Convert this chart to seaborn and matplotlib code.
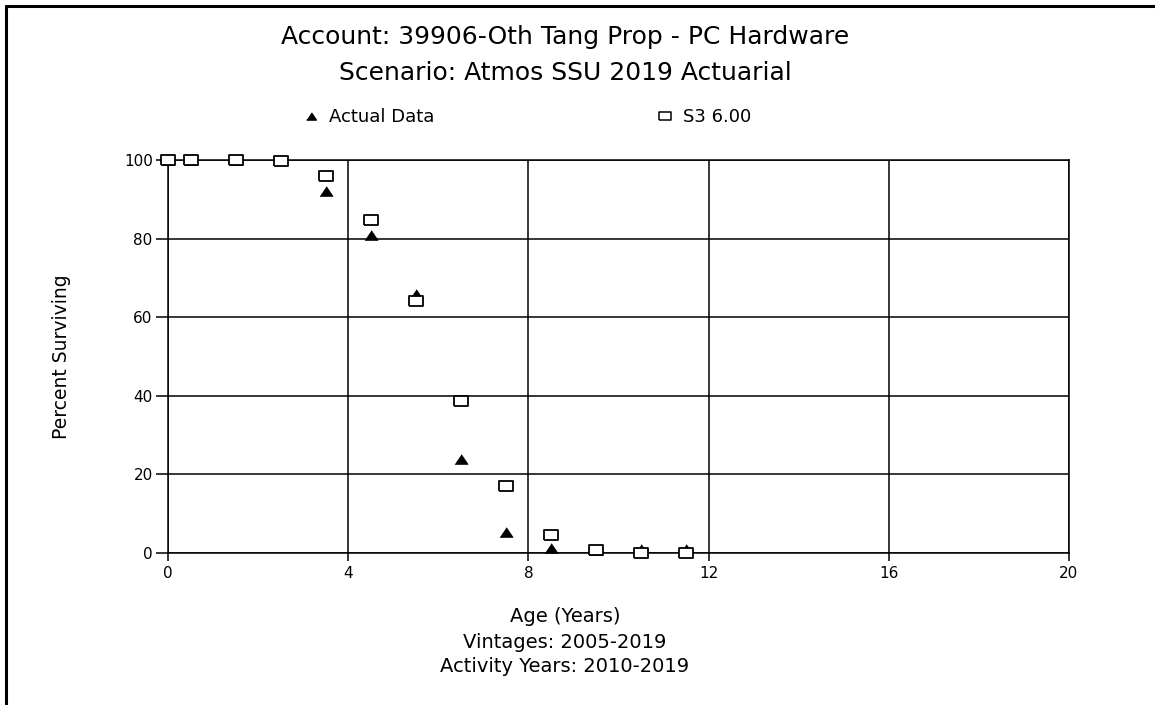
import matplotlib
matplotlib.use("Agg")
import matplotlib.pyplot as plt
import seaborn as sns
import pandas as pd
from matplotlib.lines import Line2D

# data
ages = [0, 0.5, 1.5, 2.5, 3.5, 4.5, 5.5, 6.5, 7.5, 8.5, 9.5, 10.5, 11.5]
actual = [100, 100, 100, 100, 92.1, 81.0, 66.0, 23.9, 5.3, 1.2, 0.8, 0.9, 0.9]
s3 = [100, 100, 100, 99.7, 95.9, 84.7, 64.1, 38.7, 17.0, 4.6, 0.8, 0.1, 0.0]
x_ticks = [0, 4, 8, 12, 16, 20]
y_ticks = [0, 20, 40, 60, 80, 100]

df = pd.DataFrame({"age": ages, "actual": actual, "s3": s3})

sns.set_style("white")
plt.rcParams["font.family"] = ["DejaVu Sans"]
plt.rcParams["text.color"] = "black"
plt.rcParams["axes.labelcolor"] = "black"
plt.rcParams["xtick.color"] = "black"
plt.rcParams["ytick.color"] = "black"

W, H = 1155, 705
fig = plt.figure(figsize=(W / 100, H / 100), dpi=100)
ax = fig.add_axes([168 / W, 1 - 553 / H, (1069 - 168) / W, (553 - 160) / H])

tri = [(-1.35, -1), (1.35, -1), (0, 1)]
rect = [(-1.4, -1), (1.4, -1), (1.4, 1), (-1.4, 1), (-1.4, -1)]

sns.scatterplot(data=df, x="age", y="actual", marker=tri, s=90, color="black",
                edgecolor="black", linewidth=0.5, ax=ax, zorder=3, clip_on=False,
                label="Actual Data", legend=False)
sns.scatterplot(data=df, x="age", y="s3", marker=rect, s=95, color="white",
                edgecolor="black", linewidth=1.3, ax=ax, zorder=4, clip_on=False,
                label="S3 6.00", legend=False)

ax.set_xlim(0, 20)
ax.set_ylim(0, 100)
ax.set_xticks(x_ticks)
ax.set_yticks(y_ticks)
ax.grid(True, color="black", linewidth=1.1)
ax.set_axisbelow(True)
for sp in ax.spines.values():
    sp.set_color("black")
    sp.set_linewidth(1.1)
ax.tick_params(axis="x", direction="out", length=6, width=1.1, labelsize=11, pad=3, bottom=True)
ax.tick_params(axis="y", direction="out", length=9, width=1.1, labelsize=11, pad=2, left=True)
ax.set_xlabel("")
ax.set_ylabel("Percent Surviving", fontsize=13.5, labelpad=38)

# titles and footers
cx = 565 / W
fig.text(cx, 1 - 37 / H, "Account: 39906-Oth Tang Prop - PC Hardware", ha="center", va="center", fontsize=18)
fig.text(cx, 1 - 73 / H, "Scenario: Atmos SSU 2019 Actuarial", ha="center", va="center", fontsize=18)
fig.text(cx, 1 - 617 / H, "Age (Years)", ha="center", va="center", fontsize=14)
fig.text(cx, 1 - 642 / H, "Vintages: 2005-2019", ha="center", va="center", fontsize=14)
fig.text(cx, 1 - 667 / H, "Activity Years: 2010-2019", ha="center", va="center", fontsize=14)

# legend entries
h1 = Line2D([], [], linestyle="none", marker=tri, markersize=7, color="black")
h2 = Line2D([], [], linestyle="none", marker=rect, markersize=8, markerfacecolor="white",
            markeredgecolor="black", markeredgewidth=1.1)
leg1 = fig.legend(handles=[h1], labels=["Actual Data"], loc="center left",
                  bbox_to_anchor=(302 / W, 1 - 117 / H), frameon=False, fontsize=13,
                  handlelength=1, handletextpad=0.5, borderpad=0, borderaxespad=0)
leg2 = fig.legend(handles=[h2], labels=["S3 6.00"], loc="center left",
                  bbox_to_anchor=(656 / W, 1 - 117 / H), frameon=False, fontsize=13,
                  handlelength=1, handletextpad=0.5, borderpad=0, borderaxespad=0)

# outer frame (left and top only)
fig.add_artist(Line2D([6 / W, 6 / W], [0, 1 - 6 / H], transform=fig.transFigure, color="black", linewidth=2.2))
fig.add_artist(Line2D([6 / W, 1], [1 - 6 / H, 1 - 6 / H], transform=fig.transFigure, color="black", linewidth=2.2))

fig.savefig("out.png", dpi=100, facecolor="white")
